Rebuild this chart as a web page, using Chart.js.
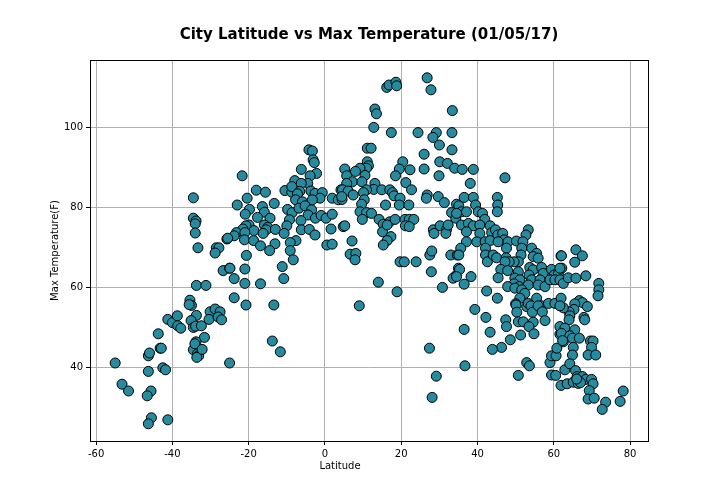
<!DOCTYPE html>
<html>
<head>
<meta charset="utf-8">
<title>City Latitude vs Max Temperature</title>
<script src="https://cdn.jsdelivr.net/npm/chart.js@4/dist/chart.umd.min.js"></script>
<style>
  html, body { margin: 0; padding: 0; background: #fff; }
  #wrap { width: 720px; height: 504px; }
</style>
</head>
<body>
<div id="wrap"><canvas id="chart" width="720" height="504"></canvas></div>
<script>
// City latitudes (deg) and the max temperature (F) read for each city
const latitudes = [
  -55.0, -53.2, -51.5, -46.3, -46.0, -46.3, -45.6, -46.6, -45.5, -46.3, -41.2, -43.7, -43.2, -42.9, -42.5, -41.8,
  -41.2, -40.0, -38.7, -38.6, -37.8, -35.4, -35.0, -35.6, -33.7, -31.2, -33.7, -35.1, -34.5, -33.9, -32.4, -31.6,
  -33.8, -34.5, -34.1, -33.4, -33.1, -33.6, -32.2, -30.1, -30.4, -28.8, -27.5, -28.0, -27.1, -25.0, -34.5, -34.5,
  -33.8, -34.0, -34.0, -33.3, -28.5, -27.8, -28.8, -25.7, -26.7, -25.0,
  -21.7, -18.0, -15.6, -20.4, -23.0, -16.4, -13.3, -19.8, -20.9, -15.9, -17.7, -14.4, -19.9, -20.7, -18.6, -21.5,
  -23.2, -23.8, -25.5, -21.0, -15.9, -15.0, -15.4, -13.0, -16.2, -21.1, -18.7, -16.9, -13.1, -14.5, -20.6, -24.9,
  -21.0, -23.8, -21.0, -16.9, -10.5, -8.7, -7.9, -6.2, -4.2, -3.3, -3.1, -2.8, -2.2, -3.9, -4.5, -6.2,
  -8.7, -6.6, -7.2, -3.7, -2.6, -0.7, -1.3, -7.7, -5.9, -3.3, 1.9, 4.2, 3.5, 4.5, -9.8, -8.6,
  -6.8, -5.2, -3.5, -4.4, -2.5, -1.0, 0.3, 1.9, -9.3, -10.0, -10.7, -6.3, -6.2, -4.1, -2.6, 1.6,
  4.8, -7.6, -9.1, -9.1, -8.3, -11.2, -10.8, 0.5, 1.9,
  -23.8, -20.7, -13.4, -13.8, -11.7,
  16.2, 16.8, 18.6, 18.8, 26.8, 27.8, 13.1, 13.5, 12.8, 17.4, 24.4, 29.2, 28.3, 33.4, 33.3, 30.0,
  33.3, 26.0, 11.1, 12.1, 20.4, 19.5, 22.3, 26.0, 30.1, 32.1, 34.0, 11.1, 11.4, 10.9, 9.2, 5.2,
  8.0, 5.7, 10.5, 18.5, 29.9,
  7.2, 9.7, 5.7, 21.2, 22.7, 13.1, 12.8, 10.9, 14.9, 17.0, 17.7, 4.6, 6.1, 4.4, 10.1, 10.3,
  9.6, 7.4, 18.1, 19.7, 19.5, 22.0, 15.9, 26.8, 26.6, 29.7, 31.3, 34.5, 9.2, 10.9, 12.2, 9.8,
  5.2, 14.2, 15.3, 15.1, 17.0, 18.4, 16.3, 21.0, 22.1, 23.3, 21.1, 22.1, 17.3, 16.3, 15.3, 7.1,
  6.6, 8.1, 7.9, 19.7, 20.8, 23.9, 14.0, 18.9, 9.0, 28.4, 28.6, 30.2, 31.9, 31.7, 32.3, 33.2,
  34.3, 35.1, 27.5, 28.0, 27.9, 30.8, 33.0, 34.7, 34.3, 33.6, 35.0,
  27.4, 29.2, 28.1,
  36.0, 38.9, 38.1, 47.2,
  36.5, 38.9, 39.5, 35.8, 37.1, 34.5, 45.2, 45.3, 45.2, 40.2, 41.3, 41.9, 35.8, 37.6, 38.9, 37.1,
  40.6, 40.6, 43.3, 43.7, 44.7, 45.3, 46.6, 47.0, 53.3, 52.7, 37.1, 39.8, 42.0, 43.3, 45.4, 48.0,
  50.2, 51.9, 35.6, 35.1, 42.1, 42.1, 42.6, 44.1, 45.0, 47.6, 47.5, 51.6, 51.4, 50.7, 49.6, 48.3,
  47.2, 54.2, 55.5, 54.6, 55.9, 61.9, 46.1, 45.4, 47.9, 50.7, 49.8, 51.1, 49.6, 50.9, 53.7, 54.6,
  53.5, 54.2, 53.3, 56.8, 57.2, 56.4, 55.9, 57.7, 59.4, 60.1, 61.2, 62.1, 59.0, 60.3, 61.6, 35.3,
  34.5, 38.3, 36.5, 42.4, 45.2, 47.9, 49.8, 51.6, 52.4, 51.1, 50.0, 52.9, 55.5, 53.3, 56.8, 58.6,
  60.3, 61.9, 39.3,
  42.2, 36.5, 43.3, 47.4, 47.6, 50.1, 50.3, 50.7, 52.0, 54.0, 54.4, 54.6, 53.5, 54.8, 55.9, 57.0,
  57.7, 51.3, 48.6, 46.3, 43.9, 36.7, 52.9, 53.6, 50.7, 59.0, 59.4, 60.6, 60.8, 59.4, 60.5, 61.9,
  61.9, 61.6, 62.5, 62.9,
  65.8, 67.5, 65.5, 62.0, 61.6, 62.5, 63.8, 65.8, 68.4, 71.8, 71.8, 71.6, 66.7, 67.5, 68.8, 65.5,
  65.3, 64.0, 62.5, 61.6, 64.2, 64.0, 67.9, 68.1, 61.6, 62.9, 62.0, 65.5, 64.2, 62.3, 64.9, 66.7,
  69.6, 70.3, 65.1, 69.9,
  64.9, 69.0, 71.0, 64.2, 65.7, 66.1, 67.5, 68.4, 69.9, 70.3, 69.3, 69.0, 70.6, 63.5, 65.1, 66.4,
  67.0, 66.0, 73.6, 72.7, 78.2, 77.4
];

const maxTemps = [
  41.0, 35.7, 34.0, 42.8, 43.5, 38.9, 34.0, 32.8, 27.3, 25.8, 26.8, 48.3, 44.7, 44.7, 39.8, 39.3,
  51.9, 51.1, 52.8, 50.3, 49.7, 56.7, 55.4, 55.6, 60.4, 60.4, 52.9, 51.6, 49.9, 50.2, 50.3, 47.4,
  46.3, 44.3, 45.8, 43.3, 42.8, 42.4, 44.4, 53.8, 51.9, 54.5, 53.8, 52.5, 51.8, 41.0, 82.3, 77.2,
  76.5, 75.8, 73.5, 69.8, 69.8, 69.8, 68.5, 72.0, 64.1, 64.7,
  87.8, 84.2, 83.7, 82.2, 80.5, 80.1, 80.9, 79.4, 78.2, 78.7, 77.4, 77.2, 75.5, 75.3, 74.1, 74.5,
  73.6, 72.8, 72.2, 73.6, 75.5, 74.9, 74.3, 74.4, 73.4, 71.8, 71.6, 70.3, 70.8, 69.1, 67.9, 64.7,
  64.5, 62.1, 60.9, 60.8, 84.1, 83.7, 86.6, 89.4, 94.3, 94.0, 91.8, 91.1, 88.4, 87.8, 85.9, 85.9,
  85.1, 83.9, 83.3, 84.0, 83.4, 83.6, 82.2, 81.8, 81.3, 81.8, 82.2, 84.3, 81.8, 81.9, 79.4, 78.6,
  79.7, 80.3, 79.3, 78.0, 77.2, 77.9, 77.2, 78.2, 76.8, 75.3, 73.4, 76.6, 74.3, 74.4, 73.0, 74.5,
  75.1, 71.6, 71.1, 69.1, 66.8, 65.1, 62.1, 70.5, 70.7,
  57.3, 55.5, 55.5, 46.5, 43.8,
  109.9, 110.5, 111.2, 110.3, 112.3, 109.3, 104.5, 103.3, 99.9, 98.6, 98.6, 98.6, 97.4, 104.1, 98.6, 95.5,
  94.3, 93.2, 94.7, 94.7, 91.3, 89.5, 89.3, 89.5, 91.3, 90.9, 89.7, 91.3, 90.3, 89.7, 89.7, 89.5,
  88.9, 87.8, 87.9, 87.8, 87.8,
  86.3, 86.3, 85.9, 86.1, 84.3, 85.9, 84.4, 84.3, 84.3, 84.3, 83.6, 84.3, 84.0, 82.6, 83.6, 81.8,
  80.7, 83.0, 82.8, 82.2, 80.5, 80.5, 80.5, 83.0, 82.2, 82.6, 81.1, 80.7, 78.8, 78.6, 78.4, 76.9,
  75.3, 76.9, 75.7, 73.8, 76.3, 76.9, 75.5, 76.9, 76.9, 76.9, 75.3, 75.1, 72.6, 71.6, 70.5, 71.5,
  68.2, 68.4, 66.8, 66.3, 66.3, 66.3, 61.2, 58.8, 55.3, 74.3, 73.4, 75.3, 74.4, 73.4, 75.5, 78.6,
  77.2, 80.3, 68.0, 69.0, 63.8, 59.9, 68.0, 68.0, 62.8, 62.2, 64.7,
  44.7, 37.7, 32.4,
  89.4, 89.4, 85.9, 87.3,
  82.4, 82.4, 80.5, 78.8, 78.8, 78.4, 82.4, 80.5, 78.8, 78.8, 78.4, 76.9, 75.5, 75.9, 75.3, 73.8,
  75.5, 73.4, 75.3, 73.6, 74.3, 73.0, 73.4, 71.8, 74.3, 73.0, 71.3, 71.3, 71.3, 71.6, 71.3, 71.3,
  71.5, 71.3, 69.7, 68.0, 69.7, 68.0, 66.3, 68.0, 67.3, 69.7, 67.3, 69.7, 68.0, 66.3, 66.3, 66.3,
  66.3, 69.7, 68.4, 67.6, 67.2, 67.8, 64.4, 62.3, 64.1, 63.8, 62.2, 61.8, 60.8, 60.1, 64.9, 64.3,
  63.0, 61.8, 60.5, 64.9, 63.4, 61.8, 60.5, 60.1, 64.4, 63.0, 63.3, 64.7, 61.8, 61.8, 61.8, 64.4,
  62.6, 62.6, 60.7, 59.0, 57.2, 60.1, 59.7, 59.3, 58.4, 57.2, 55.8, 55.1, 57.2, 55.9, 55.3, 55.9,
  55.9, 57.2, 54.4,
  52.4, 49.4, 48.7, 51.8, 50.1, 55.5, 53.7, 51.3, 51.3, 55.3, 53.7, 51.2, 50.1, 48.3, 55.3, 53.8,
  51.6, 48.0, 46.8, 44.9, 44.4, 40.3, 41.1, 40.3, 37.9, 41.1, 42.8, 42.8, 44.7, 38.0, 37.9, 35.4,
  49.7, 48.2, 46.3, 39.3,
  69.3, 67.8, 66.2, 67.8, 64.7, 60.9, 62.3, 62.2, 62.8, 60.9, 59.3, 57.8, 56.6, 56.1, 55.1, 55.8,
  54.4, 53.8, 54.8, 55.3, 52.8, 51.8, 52.4, 51.8, 50.1, 49.7, 48.4, 49.3, 47.8, 46.6, 47.2, 47.2,
  46.5, 46.5, 44.9, 44.9,
  43.0, 43.0, 43.0, 40.8, 39.1, 37.6, 37.6, 36.9, 36.9, 35.8, 34.1, 32.0, 32.2, 35.8, 36.2, 35.9,
  36.1, 37.0, 31.2, 29.4, 34.0, 31.4
];

const xTicks = [-60, -40, -20, 0, 20, 40, 60, 80];
const yTicks = [40, 60, 80, 100];
const xLabel = 'Latitude';

const points = latitudes.map((lat, i) => ({ x: lat, y: maxTemps[i] }));

// matplotlib style box around the plot, plus the x axis label
const frame = {
  id: 'frame',
  afterDraw(chart) {
    const { ctx, chartArea } = chart;
    ctx.save();
    ctx.strokeStyle = '#000';
    ctx.lineWidth = 1;
    ctx.strokeRect(chartArea.left + 0.5, chartArea.top + 0.5, chartArea.right - chartArea.left, chartArea.bottom - chartArea.top);

    // the label sits a bit left of the axis centre in the original
    ctx.fillStyle = '#000';
    ctx.font = '10px "DejaVu Sans", sans-serif';
    ctx.textAlign = 'center';
    ctx.textBaseline = 'middle';
    ctx.fillText(xLabel, 340, 466);
    ctx.restore();
  }
};

Chart.defaults.font.family = '"DejaVu Sans", sans-serif';
Chart.defaults.color = '#000';

const ctx = document.getElementById('chart').getContext('2d');
new Chart(ctx, {
  type: 'scatter',
  data: {
    datasets: [
      {
        label: 'Cities',
        data: points,
        pointRadius: 5,
        pointHoverRadius: 5,
        pointBackgroundColor: 'rgb(38, 139, 158)',
        pointBorderColor: '#000',
        pointBorderWidth: 1
      }
    ]
  },
  options: {
    responsive: false,
    animation: false,
    layout: {
      padding: { top: 0, right: 72, bottom: 0, left: 0 }
    },
    plugins: {
      legend: { display: false },
      tooltip: { enabled: false },
      title: {
        display: true,
        fullSize: false,
        text: 'City Latitude vs Max Temperature (01/05/17)',
        color: '#000',
        font: { size: 15, weight: 'bold' },
        padding: { top: 26, bottom: 16 }
      }
    },
    scales: {
      x: {
        type: 'linear',
        min: -61.6,
        max: 84.7,
        afterBuildTicks: axis => { axis.ticks = xTicks.map(v => ({ value: v })); },
        afterFit: scale => { scale.height = 63; },
        grid: { color: '#b0b0b0', tickColor: '#000', tickLength: 4 },
        border: { display: true, color: '#000' },
        ticks: { font: { size: 10 }, color: '#000', padding: 3, maxRotation: 0 }
      },
      y: {
        type: 'linear',
        min: 21.5,
        max: 116.75,
        afterBuildTicks: axis => { axis.ticks = yTicks.map(v => ({ value: v })); },
        afterFit: scale => { scale.width = 90; },
        grid: { color: '#b0b0b0', tickColor: '#000', tickLength: 4 },
        border: { display: true, color: '#000' },
        ticks: { font: { size: 10 }, color: '#000', padding: 3 },
        title: {
          display: true,
          text: 'Max Temperature(F)',
          font: { size: 10 },
          padding: { top: 49, bottom: 0 }
        }
      }
    }
  },
  plugins: [frame]
});
</script>
</body>
</html>
